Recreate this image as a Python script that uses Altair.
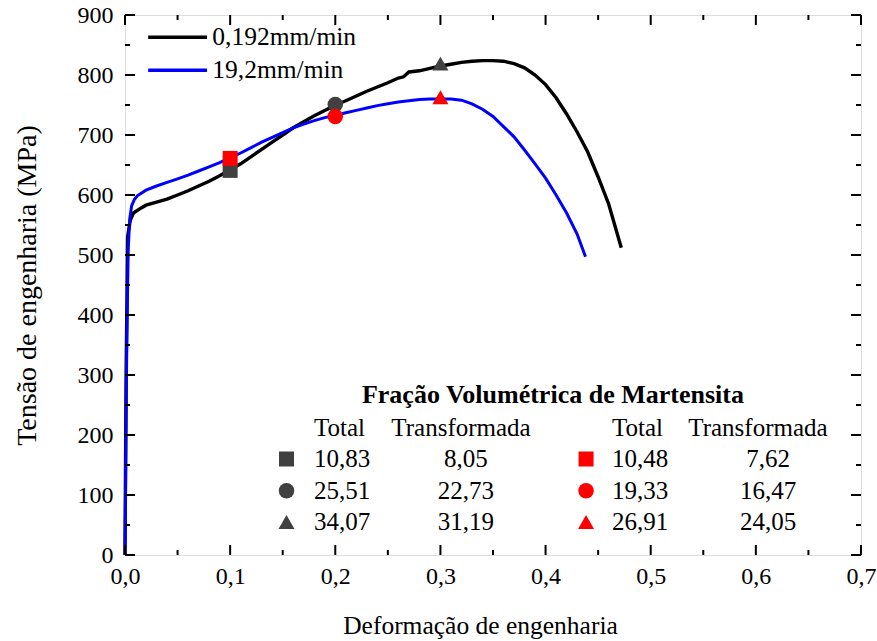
import altair as alt
import pandas as pd

# ------------------------------------------------------------------ data
series_names = ["0,192mm/min", "19,2mm/min"]
series_colors = ["#000000", "#0000ff"]

# 0,192 mm/min (black)
strain_slow = [0.000, 0.001, 0.0025, 0.005, 0.008, 0.015, 0.02, 0.03, 0.04, 0.05,
               0.06, 0.07, 0.08, 0.09, 0.10, 0.11, 0.12, 0.13, 0.14, 0.15,
               0.16, 0.17, 0.18, 0.19, 0.20, 0.21, 0.22, 0.23, 0.24, 0.25,
               0.26, 0.265, 0.27, 0.28, 0.29, 0.30, 0.31, 0.32, 0.33, 0.34,
               0.35, 0.36, 0.37, 0.38, 0.39, 0.40, 0.41, 0.42, 0.43, 0.44,
               0.45, 0.46, 0.472]
stress_slow = [0, 290, 530, 558, 570, 578, 583, 588, 593, 600,
               607, 615, 623, 632, 642, 652, 664, 676, 688, 700,
               712, 722, 732, 741, 750, 757, 765, 773, 780, 787,
               795, 797, 805, 807, 811, 815, 818, 821, 823, 824,
               824, 823, 819, 812, 800, 784, 762, 735, 705, 672,
               630, 585, 512]

# 19,2 mm/min (blue)
strain_fast = [0.000, 0.0016, 0.003, 0.0045, 0.0063, 0.009, 0.012, 0.02, 0.03, 0.04,
               0.05, 0.06, 0.07, 0.08, 0.09, 0.10, 0.11, 0.12, 0.13, 0.14,
               0.15, 0.16, 0.17, 0.18, 0.19, 0.20, 0.21, 0.22, 0.23, 0.24,
               0.25, 0.26, 0.27, 0.28, 0.29, 0.30, 0.31, 0.32, 0.33, 0.34,
               0.35, 0.36, 0.37, 0.38, 0.39, 0.40, 0.41, 0.42, 0.43, 0.438]
stress_fast = [0, 338, 508, 560, 582, 593, 599, 608, 615, 621,
               627, 633, 640, 647, 654, 662, 670, 679, 688, 696,
               704, 712, 718, 724, 729, 733, 737, 741, 745, 749,
               752, 755, 757, 759, 760, 760, 760, 758, 752, 743,
               731, 714, 697, 675, 652, 628, 600, 570, 535, 497]

# markers on the curves
marker_strain = [0.1, 0.2, 0.3]
marker_stress_slow = [641, 751, 819]
marker_stress_fast = [661, 731, 763]
marker_shapes = ["square", "circle", "triangle-up"]
marker_colors = ["#404040", "#ff0000"]

# table (Fração Volumétrica de Martensita)
table_title = "Fração Volumétrica de Martensita"
table_headers = ["Total", "Transformada"]
total_slow = ["10,83", "25,51", "34,07"]
transf_slow = ["8,05", "22,73", "31,19"]
total_fast = ["10,48", "19,33", "26,91"]
transf_fast = ["7,62", "16,47", "24,05"]

# axis ticks
x_major = [0.0, 0.1, 0.2, 0.3, 0.4, 0.5, 0.6, 0.7]
x_minor = [0.05, 0.15, 0.25, 0.35, 0.45, 0.55, 0.65]
y_major = [0, 100, 200, 300, 400, 500, 600, 700, 800, 900]
y_minor = [50, 150, 250, 350, 450, 550, 650, 750, 850]

# ------------------------------------------------------------------ layout
W, H = 736, 540
FONT = "Liberation Serif"
xs = alt.Scale(domain=[0, 0.7], nice=False, zero=False)
ys = alt.Scale(domain=[0, 900], nice=False, zero=False)
cs = alt.Scale(domain=series_names, range=series_colors)

# legend placement (data coordinates)
leg_x0, leg_x1, leg_tx = 0.022, 0.078, 0.083
leg_y = [863, 808]

# table placement (data coordinates)
tab_title_xy = (0.407, 267)
tab_header_y = 212
tab_row_y = [160, 107, 55]
tab_marker_x = [0.1536, 0.4385]
tab_total_x = [0.1798, 0.4632]
tab_transf_head_x = [0.3196, 0.6020]
tab_transf_val_x = [0.3243, 0.6116]


def X(**k):
    return alt.X("strain:Q", scale=xs, **k)


def Y(**k):
    return alt.Y("stress:Q", scale=ys, **k)


# ------------------------------------------------------------------ curves
df_slow = pd.DataFrame({"strain": strain_slow, "stress": stress_slow,
                        "series": series_names[0]})
df_slow["i"] = range(len(df_slow))
df_fast = pd.DataFrame({"strain": strain_fast, "stress": stress_fast,
                        "series": series_names[1]})
df_fast["i"] = range(len(df_fast))

x_axis = alt.Axis(values=x_major, labelExpr="replace(format(datum.value, '.1f'), '.', ',')",
                  title="Deformação de engenharia", ticks=False, tickSize=0, domain=False,
                  grid=False, labelFontSize=24, labelPadding=9, labelFont=FONT,
                  labelColor="black", labelFlush=False, labelOverlap=False,
                  titleFont=FONT, titleFontSize=25.5,
                  titleFontWeight="normal", titleColor="black",
                  titleX=355, titleY=70, titleBaseline="middle", titleAlign="center")
y_axis = alt.Axis(values=y_major, title="Tensão de engenharia (MPa)", ticks=False,
                  tickSize=0, domain=False, grid=False, labelFontSize=24,
                  labelPadding=12, labelFont=FONT, labelColor="black",
                  labelFlush=False, labelOverlap=False,
                  titleFont=FONT, titleFontSize=28, titleFontWeight="normal",
                  titleColor="black", titleX=-98, titleY=270, titleAngle=-90,
                  titleBaseline="middle", titleAlign="center")

line_slow = alt.Chart(df_slow).mark_line(strokeWidth=3.4).encode(
    x=alt.X("strain:Q", scale=xs, axis=x_axis),
    y=alt.Y("stress:Q", scale=ys, axis=y_axis),
    color=alt.Color("series:N", scale=cs, legend=None),
    order="i:Q",
)
line_fast = alt.Chart(df_fast).mark_line(strokeWidth=3.0).encode(
    x=X(), y=Y(), color=alt.Color("series:N", scale=cs, legend=None), order="i:Q",
)


# ------------------------------------------------------------------ ticks
def tick_layers():
    layers = []
    for vals, ln in ((x_major, 10), (x_minor, 5)):
        d = pd.DataFrame({"strain": vals})
        for y0, y1 in ((H, H - ln), (0, ln)):
            layers.append(alt.Chart(d).mark_rule(color="black", strokeWidth=2).encode(
                x=X(), y=alt.value(y0), y2=alt.value(y1)))
    for vals, ln in ((y_major, 10), (y_minor, 5)):
        d = pd.DataFrame({"stress": vals})
        for x0, x1 in ((0, ln), (W, W - ln)):
            layers.append(alt.Chart(d).mark_rule(color="black", strokeWidth=2).encode(
                y=Y(), x=alt.value(x0), x2=alt.value(x1)))
    return layers


# ------------------------------------------------------------------ markers on curves
df_mark = pd.DataFrame({
    "strain": marker_strain * 2,
    "stress": marker_stress_slow + marker_stress_fast,
    "shape": marker_shapes * 2,
    "fill": [marker_colors[0]] * 3 + [marker_colors[1]] * 3,
})
size_scale = alt.Scale(domain=marker_shapes, range=[225, 256, 560])
markers = alt.Chart(df_mark).mark_point(filled=True, opacity=1, strokeWidth=0).encode(
    x=X(), y=Y(),
    shape=alt.Shape("shape:N", scale=None),
    fill=alt.Fill("fill:N", scale=None),
    size=alt.Size("shape:N", scale=size_scale, legend=None),
)

# ------------------------------------------------------------------ legend (lines)
df_leg = pd.DataFrame({"series": series_names, "strain": [leg_x0] * 2,
                       "strain2": [leg_x1] * 2, "stress": leg_y})
leg_rules = alt.Chart(df_leg).mark_rule(strokeWidth=3.4).encode(
    x=X(), x2="strain2:Q", y=Y(), color=alt.Color("series:N", scale=cs, legend=None))
df_leg_t = pd.DataFrame({"series": series_names, "strain": [leg_tx] * 2, "stress": leg_y})
leg_text = alt.Chart(df_leg_t).mark_text(align="left", baseline="middle", font=FONT,
                                         fontSize=25.5, color="black").encode(
    x=X(), y=Y(), text="series:N")

# ------------------------------------------------------------------ table
rows = []
rows.append({"strain": tab_title_xy[0], "stress": tab_title_xy[1], "t": table_title,
             "al": "center", "wt": "bold"})
for k in range(2):
    rows.append({"strain": tab_total_x[k], "stress": tab_header_y, "t": table_headers[0],
                 "al": "left", "wt": "normal"})
    rows.append({"strain": tab_transf_head_x[k], "stress": tab_header_y,
                 "t": table_headers[1], "al": "center", "wt": "normal"})
for k, (tot, tr) in enumerate(((total_slow, transf_slow), (total_fast, transf_fast))):
    for r in range(3):
        rows.append({"strain": tab_total_x[k], "stress": tab_row_y[r], "t": tot[r],
                     "al": "left", "wt": "normal"})
        rows.append({"strain": tab_transf_val_x[k], "stress": tab_row_y[r], "t": tr[r],
                     "al": "center", "wt": "normal"})
df_tab = pd.DataFrame(rows)
df_left = df_tab[df_tab["al"] == "left"]
df_center = df_tab[(df_tab["al"] == "center") & (df_tab["wt"] == "normal")]
df_title = df_tab[df_tab["wt"] == "bold"]

tab_left = alt.Chart(df_left).mark_text(
    align="left", baseline="middle", font=FONT, fontSize=25, color="black").encode(
    x=X(), y=Y(), text="t:N")
tab_center = alt.Chart(df_center).mark_text(
    align="center", baseline="middle", font=FONT, fontSize=25, color="black").encode(
    x=X(), y=Y(), text="t:N")
tab_title = alt.Chart(df_title).mark_text(
    align="center", baseline="middle", font=FONT, fontSize=26, fontWeight="bold",
    color="black").encode(x=X(), y=Y(), text="t:N")

df_tab_m = pd.DataFrame({
    "strain": [tab_marker_x[0]] * 3 + [tab_marker_x[1]] * 3,
    "stress": tab_row_y * 2,
    "shape": marker_shapes * 2,
    "fill": [marker_colors[0]] * 3 + [marker_colors[1]] * 3,
})
tab_markers = alt.Chart(df_tab_m).mark_point(filled=True, opacity=1, strokeWidth=0).encode(
    x=X(), y=Y(),
    shape=alt.Shape("shape:N", scale=None),
    fill=alt.Fill("fill:N", scale=None),
    size=alt.Size("shape:N", scale=size_scale, legend=None),
)

chart = alt.layer(
    line_slow, line_fast, *tick_layers(), markers, leg_rules, leg_text,
    tab_title, tab_left, tab_center, tab_markers,
).properties(
    width=W, height=H,
    autosize=alt.AutoSizeParams(type="none"),
    padding={"left": 125, "top": 15, "right": 16, "bottom": 86},
).configure_view(stroke="black", strokeWidth=2.4).configure(font=FONT, background="white")

chart.save("out.html", embed_options={"renderer": "svg", "actions": False})
